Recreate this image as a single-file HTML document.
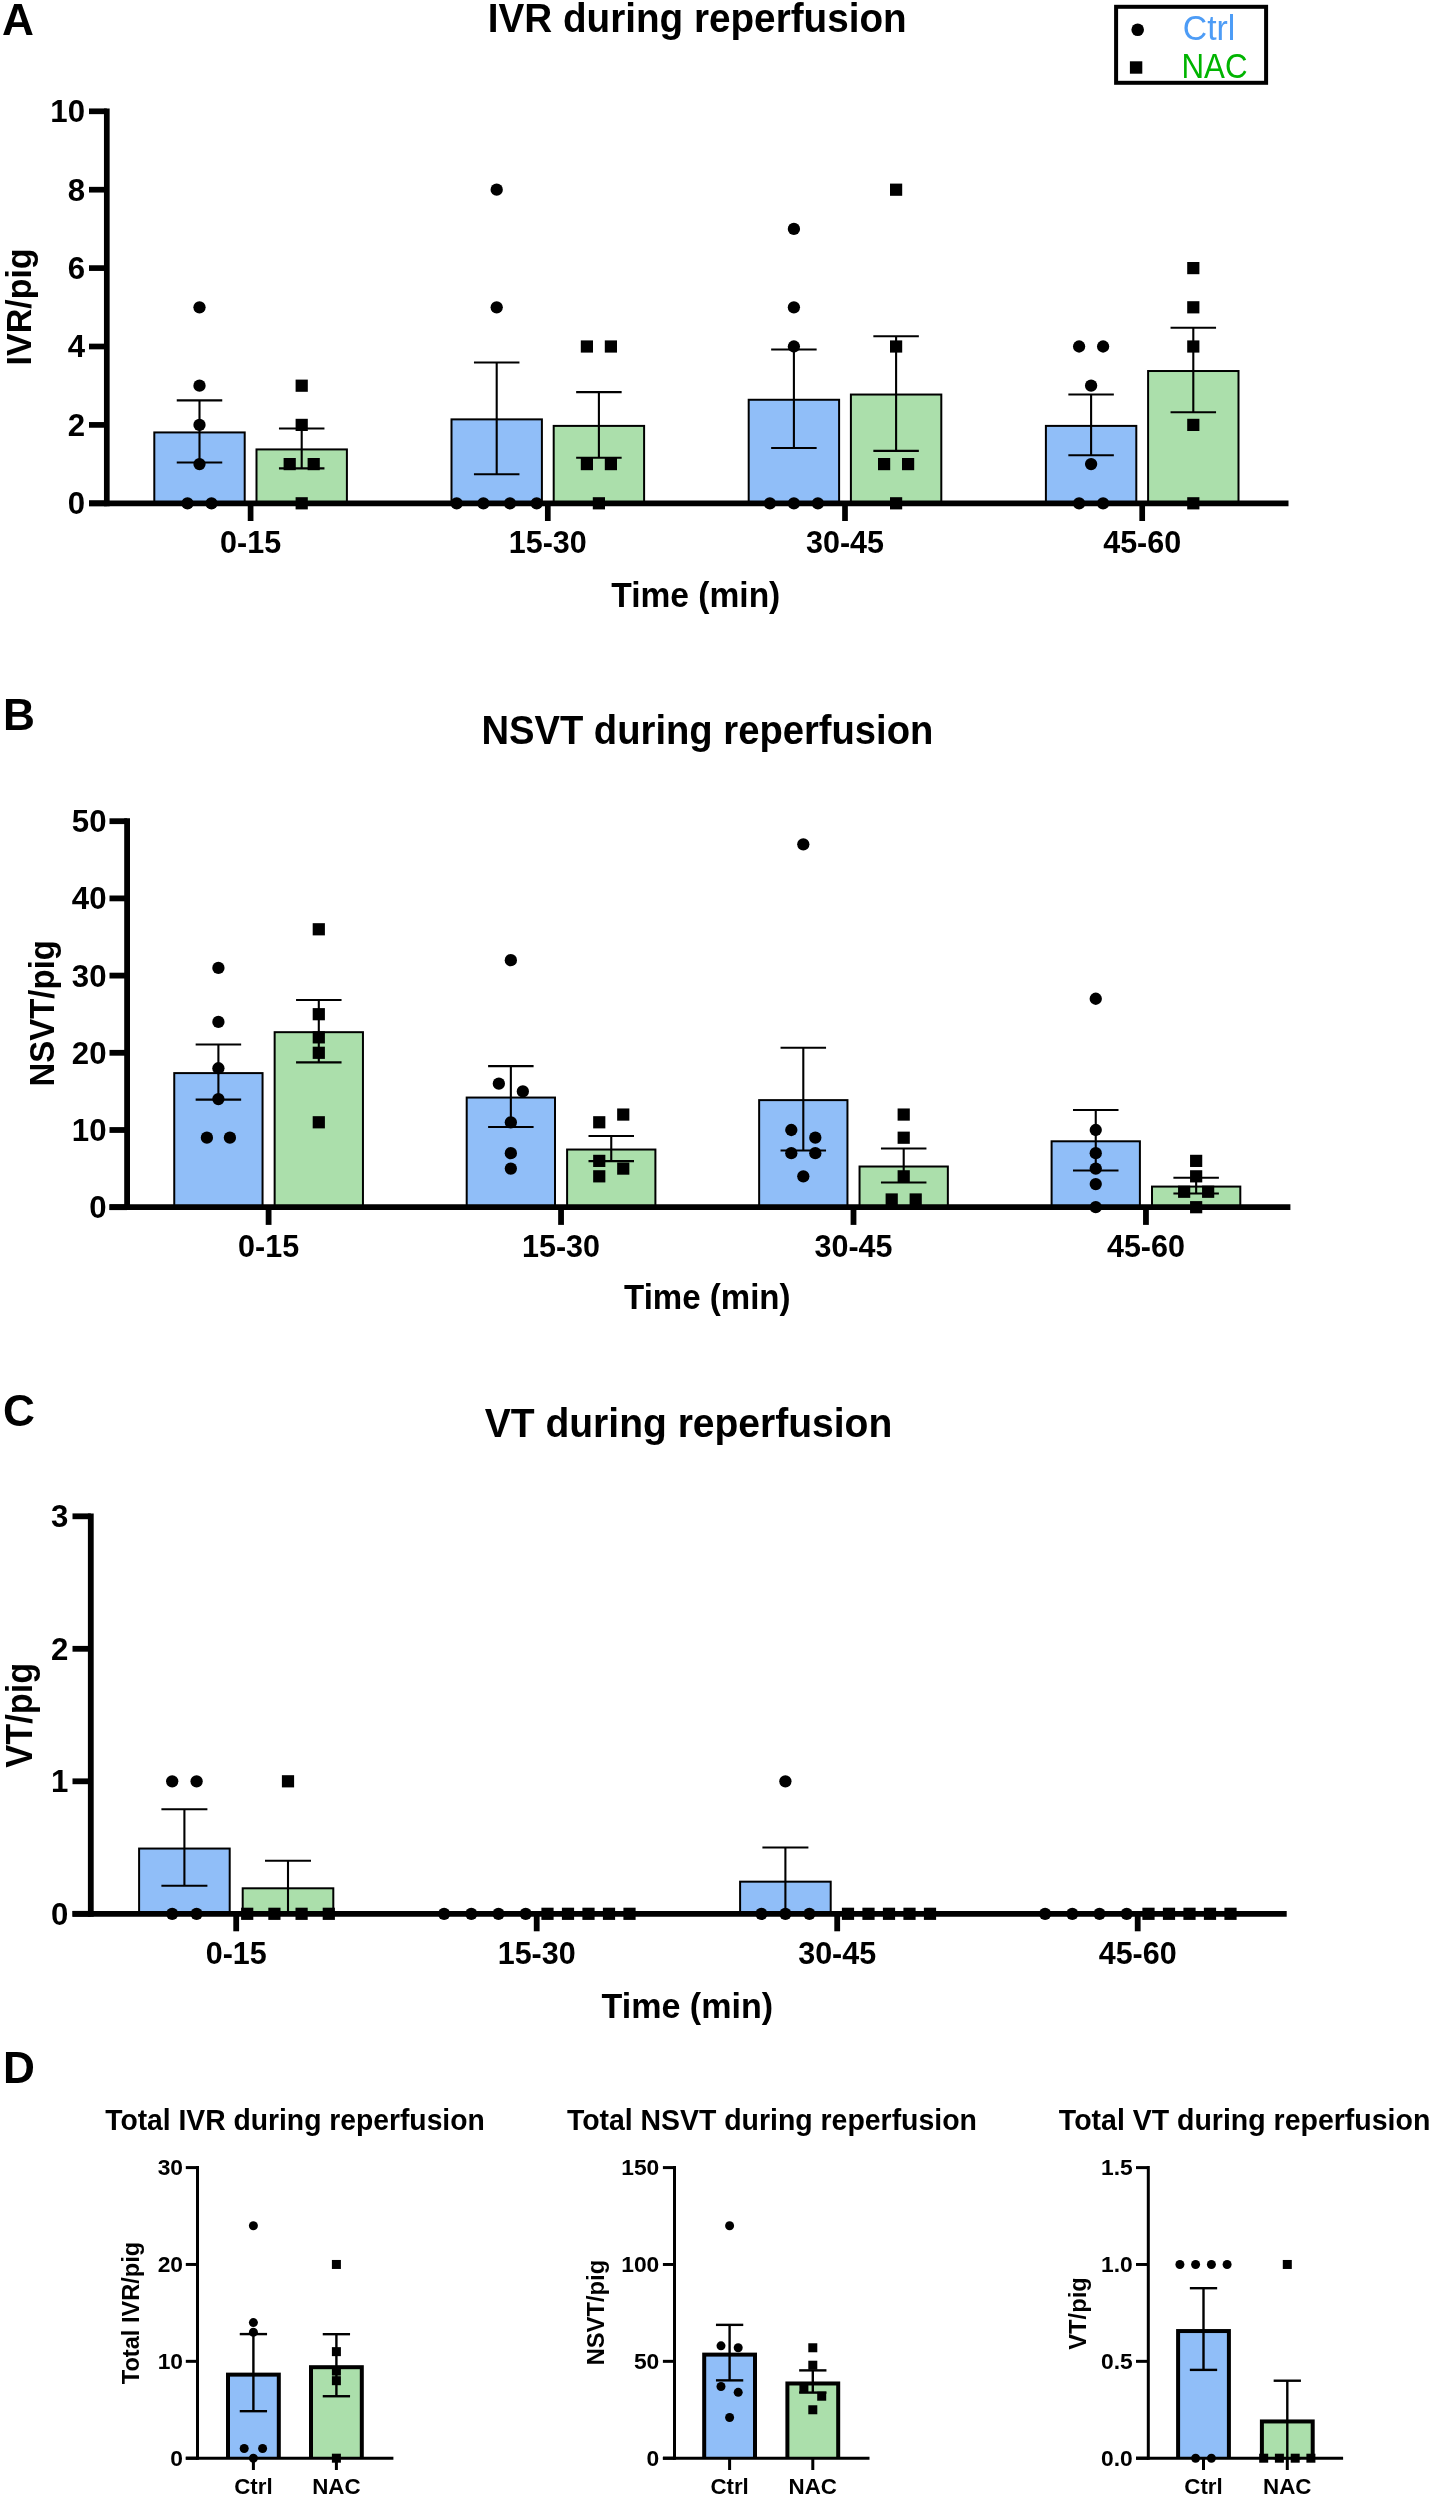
<!DOCTYPE html>
<html><head><meta charset="utf-8"><title>Figure</title>
<style>html,body{margin:0;padding:0;background:#fff;} svg{display:block;will-change:transform;} text{font-family:"Liberation Sans", sans-serif;}</style>
</head><body>
<svg width="1433" height="2500" viewBox="0 0 1433 2500">
<rect x="0" y="0" width="1433" height="2500" fill="#fff"/>
<rect x="153.30" y="431.43" width="92.40" height="71.87" fill="#000"/>
<rect x="155.30" y="433.43" width="88.40" height="69.87" fill="#90BEF8"/>
<rect x="255.50" y="448.42" width="92.40" height="54.88" fill="#000"/>
<rect x="257.50" y="450.42" width="88.40" height="52.88" fill="#ABDFAB"/>
<rect x="450.50" y="418.37" width="92.40" height="84.93" fill="#000"/>
<rect x="452.50" y="420.37" width="88.40" height="82.93" fill="#90BEF8"/>
<rect x="552.70" y="424.90" width="92.40" height="78.40" fill="#000"/>
<rect x="554.70" y="426.90" width="88.40" height="76.40" fill="#ABDFAB"/>
<rect x="747.70" y="398.77" width="92.40" height="104.53" fill="#000"/>
<rect x="749.70" y="400.77" width="88.40" height="102.53" fill="#90BEF8"/>
<rect x="849.90" y="393.54" width="92.40" height="109.76" fill="#000"/>
<rect x="851.90" y="395.54" width="88.40" height="107.76" fill="#ABDFAB"/>
<rect x="1044.90" y="424.90" width="92.40" height="78.40" fill="#000"/>
<rect x="1046.90" y="426.90" width="88.40" height="76.40" fill="#90BEF8"/>
<rect x="1147.10" y="370.02" width="92.40" height="133.28" fill="#000"/>
<rect x="1149.10" y="372.02" width="88.40" height="131.28" fill="#ABDFAB"/>
<circle cx="199.50" cy="307.30" r="6.15" fill="#000"/>
<circle cx="199.50" cy="385.70" r="6.15" fill="#000"/>
<circle cx="199.50" cy="424.90" r="6.15" fill="#000"/>
<circle cx="199.50" cy="464.10" r="6.15" fill="#000"/>
<circle cx="187.50" cy="503.30" r="6.15" fill="#000"/>
<circle cx="211.50" cy="503.30" r="6.15" fill="#000"/>
<rect x="295.60" y="379.60" width="12.20" height="12.20" fill="#000"/>
<rect x="295.60" y="418.80" width="12.20" height="12.20" fill="#000"/>
<rect x="283.60" y="458.00" width="12.20" height="12.20" fill="#000"/>
<rect x="307.60" y="458.00" width="12.20" height="12.20" fill="#000"/>
<rect x="295.60" y="497.20" width="12.20" height="12.20" fill="#000"/>
<circle cx="496.70" cy="189.70" r="6.15" fill="#000"/>
<circle cx="496.70" cy="307.30" r="6.15" fill="#000"/>
<circle cx="456.70" cy="503.30" r="6.15" fill="#000"/>
<circle cx="483.40" cy="503.30" r="6.15" fill="#000"/>
<circle cx="510.00" cy="503.30" r="6.15" fill="#000"/>
<circle cx="536.70" cy="503.30" r="6.15" fill="#000"/>
<rect x="580.80" y="340.40" width="12.20" height="12.20" fill="#000"/>
<rect x="604.80" y="340.40" width="12.20" height="12.20" fill="#000"/>
<rect x="580.80" y="458.00" width="12.20" height="12.20" fill="#000"/>
<rect x="604.80" y="458.00" width="12.20" height="12.20" fill="#000"/>
<rect x="592.80" y="497.20" width="12.20" height="12.20" fill="#000"/>
<circle cx="793.90" cy="228.90" r="6.15" fill="#000"/>
<circle cx="793.90" cy="307.30" r="6.15" fill="#000"/>
<circle cx="793.90" cy="346.50" r="6.15" fill="#000"/>
<circle cx="769.90" cy="503.30" r="6.15" fill="#000"/>
<circle cx="793.90" cy="503.30" r="6.15" fill="#000"/>
<circle cx="817.90" cy="503.30" r="6.15" fill="#000"/>
<rect x="890.00" y="183.60" width="12.20" height="12.20" fill="#000"/>
<rect x="890.00" y="340.40" width="12.20" height="12.20" fill="#000"/>
<rect x="878.00" y="458.00" width="12.20" height="12.20" fill="#000"/>
<rect x="902.00" y="458.00" width="12.20" height="12.20" fill="#000"/>
<rect x="890.00" y="497.20" width="12.20" height="12.20" fill="#000"/>
<circle cx="1079.10" cy="346.50" r="6.15" fill="#000"/>
<circle cx="1103.10" cy="346.50" r="6.15" fill="#000"/>
<circle cx="1091.10" cy="385.70" r="6.15" fill="#000"/>
<circle cx="1091.10" cy="464.10" r="6.15" fill="#000"/>
<circle cx="1079.10" cy="503.30" r="6.15" fill="#000"/>
<circle cx="1103.10" cy="503.30" r="6.15" fill="#000"/>
<rect x="1187.20" y="262.00" width="12.20" height="12.20" fill="#000"/>
<rect x="1187.20" y="301.20" width="12.20" height="12.20" fill="#000"/>
<rect x="1187.20" y="340.40" width="12.20" height="12.20" fill="#000"/>
<rect x="1187.20" y="418.80" width="12.20" height="12.20" fill="#000"/>
<rect x="1187.20" y="497.20" width="12.20" height="12.20" fill="#000"/>
<line x1="199.50" y1="400.37" x2="199.50" y2="462.49" stroke="#000" stroke-width="2.1" stroke-linecap="butt"/>
<line x1="176.75" y1="400.37" x2="222.25" y2="400.37" stroke="#000" stroke-width="2.1" stroke-linecap="butt"/>
<line x1="176.75" y1="462.49" x2="222.25" y2="462.49" stroke="#000" stroke-width="2.1" stroke-linecap="butt"/>
<line x1="301.70" y1="428.43" x2="301.70" y2="468.41" stroke="#000" stroke-width="2.1" stroke-linecap="butt"/>
<line x1="278.95" y1="428.43" x2="324.45" y2="428.43" stroke="#000" stroke-width="2.1" stroke-linecap="butt"/>
<line x1="278.95" y1="468.41" x2="324.45" y2="468.41" stroke="#000" stroke-width="2.1" stroke-linecap="butt"/>
<line x1="496.70" y1="362.55" x2="496.70" y2="474.19" stroke="#000" stroke-width="2.1" stroke-linecap="butt"/>
<line x1="473.95" y1="362.55" x2="519.45" y2="362.55" stroke="#000" stroke-width="2.1" stroke-linecap="butt"/>
<line x1="473.95" y1="474.19" x2="519.45" y2="474.19" stroke="#000" stroke-width="2.1" stroke-linecap="butt"/>
<line x1="598.90" y1="392.10" x2="598.90" y2="457.70" stroke="#000" stroke-width="2.1" stroke-linecap="butt"/>
<line x1="576.15" y1="392.10" x2="621.65" y2="392.10" stroke="#000" stroke-width="2.1" stroke-linecap="butt"/>
<line x1="576.15" y1="457.70" x2="621.65" y2="457.70" stroke="#000" stroke-width="2.1" stroke-linecap="butt"/>
<line x1="793.90" y1="349.53" x2="793.90" y2="448.01" stroke="#000" stroke-width="2.1" stroke-linecap="butt"/>
<line x1="771.15" y1="349.53" x2="816.65" y2="349.53" stroke="#000" stroke-width="2.1" stroke-linecap="butt"/>
<line x1="771.15" y1="448.01" x2="816.65" y2="448.01" stroke="#000" stroke-width="2.1" stroke-linecap="butt"/>
<line x1="896.10" y1="336.20" x2="896.10" y2="450.88" stroke="#000" stroke-width="2.1" stroke-linecap="butt"/>
<line x1="873.35" y1="336.20" x2="918.85" y2="336.20" stroke="#000" stroke-width="2.1" stroke-linecap="butt"/>
<line x1="873.35" y1="450.88" x2="918.85" y2="450.88" stroke="#000" stroke-width="2.1" stroke-linecap="butt"/>
<line x1="1091.10" y1="394.54" x2="1091.10" y2="455.26" stroke="#000" stroke-width="2.1" stroke-linecap="butt"/>
<line x1="1068.35" y1="394.54" x2="1113.85" y2="394.54" stroke="#000" stroke-width="2.1" stroke-linecap="butt"/>
<line x1="1068.35" y1="455.26" x2="1113.85" y2="455.26" stroke="#000" stroke-width="2.1" stroke-linecap="butt"/>
<line x1="1193.30" y1="327.80" x2="1193.30" y2="412.24" stroke="#000" stroke-width="2.1" stroke-linecap="butt"/>
<line x1="1170.55" y1="327.80" x2="1216.05" y2="327.80" stroke="#000" stroke-width="2.1" stroke-linecap="butt"/>
<line x1="1170.55" y1="412.24" x2="1216.05" y2="412.24" stroke="#000" stroke-width="2.1" stroke-linecap="butt"/>
<line x1="106.80" y1="108.45" x2="106.80" y2="506.15" stroke="#000" stroke-width="5.7" stroke-linecap="butt"/>
<line x1="89.00" y1="503.30" x2="1288.50" y2="503.30" stroke="#000" stroke-width="5.7" stroke-linecap="butt"/>
<line x1="89.00" y1="503.30" x2="106.80" y2="503.30" stroke="#000" stroke-width="5.7" stroke-linecap="butt"/>
<line x1="89.00" y1="424.90" x2="106.80" y2="424.90" stroke="#000" stroke-width="5.7" stroke-linecap="butt"/>
<line x1="89.00" y1="346.50" x2="106.80" y2="346.50" stroke="#000" stroke-width="5.7" stroke-linecap="butt"/>
<line x1="89.00" y1="268.10" x2="106.80" y2="268.10" stroke="#000" stroke-width="5.7" stroke-linecap="butt"/>
<line x1="89.00" y1="189.70" x2="106.80" y2="189.70" stroke="#000" stroke-width="5.7" stroke-linecap="butt"/>
<line x1="89.00" y1="111.30" x2="106.80" y2="111.30" stroke="#000" stroke-width="5.7" stroke-linecap="butt"/>
<line x1="250.60" y1="503.30" x2="250.60" y2="521.00" stroke="#000" stroke-width="5.7" stroke-linecap="butt"/>
<line x1="547.80" y1="503.30" x2="547.80" y2="521.00" stroke="#000" stroke-width="5.7" stroke-linecap="butt"/>
<line x1="845.00" y1="503.30" x2="845.00" y2="521.00" stroke="#000" stroke-width="5.7" stroke-linecap="butt"/>
<line x1="1142.20" y1="503.30" x2="1142.20" y2="521.00" stroke="#000" stroke-width="5.7" stroke-linecap="butt"/>
<text x="85.00" y="514.20" font-size="31.2" font-weight="bold" fill="#000" text-anchor="end">0</text>
<text x="85.00" y="435.80" font-size="31.2" font-weight="bold" fill="#000" text-anchor="end">2</text>
<text x="85.00" y="357.40" font-size="31.2" font-weight="bold" fill="#000" text-anchor="end">4</text>
<text x="85.00" y="279.00" font-size="31.2" font-weight="bold" fill="#000" text-anchor="end">6</text>
<text x="85.00" y="200.60" font-size="31.2" font-weight="bold" fill="#000" text-anchor="end">8</text>
<text x="85.00" y="122.20" font-size="31.2" font-weight="bold" fill="#000" text-anchor="end">10</text>
<text x="250.60" y="553.00" font-size="30.5" font-weight="bold" fill="#000" text-anchor="middle">0-15</text>
<text x="547.80" y="553.00" font-size="30.5" font-weight="bold" fill="#000" text-anchor="middle">15-30</text>
<text x="845.00" y="553.00" font-size="30.5" font-weight="bold" fill="#000" text-anchor="middle">30-45</text>
<text x="1142.20" y="553.00" font-size="30.5" font-weight="bold" fill="#000" text-anchor="middle">45-60</text>
<rect x="173.25" y="1072.10" width="90.30" height="135.10" fill="#000"/>
<rect x="175.25" y="1074.10" width="86.30" height="133.10" fill="#90BEF8"/>
<rect x="273.65" y="1031.18" width="90.30" height="176.02" fill="#000"/>
<rect x="275.65" y="1033.18" width="86.30" height="174.02" fill="#ABDFAB"/>
<rect x="465.70" y="1096.55" width="90.30" height="110.65" fill="#000"/>
<rect x="467.70" y="1098.55" width="86.30" height="108.65" fill="#90BEF8"/>
<rect x="566.10" y="1148.53" width="90.30" height="58.67" fill="#000"/>
<rect x="568.10" y="1150.53" width="86.30" height="56.67" fill="#ABDFAB"/>
<rect x="758.15" y="1099.12" width="90.30" height="108.08" fill="#000"/>
<rect x="760.15" y="1101.12" width="86.30" height="106.08" fill="#90BEF8"/>
<rect x="858.55" y="1165.51" width="90.30" height="41.69" fill="#000"/>
<rect x="860.55" y="1167.51" width="86.30" height="39.69" fill="#ABDFAB"/>
<rect x="1050.60" y="1140.29" width="90.30" height="66.91" fill="#000"/>
<rect x="1052.60" y="1142.29" width="86.30" height="64.91" fill="#90BEF8"/>
<rect x="1151.00" y="1185.58" width="90.30" height="21.62" fill="#000"/>
<rect x="1153.00" y="1187.58" width="86.30" height="19.62" fill="#ABDFAB"/>
<circle cx="218.40" cy="967.88" r="6.15" fill="#000"/>
<circle cx="218.40" cy="1021.92" r="6.15" fill="#000"/>
<circle cx="218.40" cy="1068.24" r="6.15" fill="#000"/>
<circle cx="218.40" cy="1099.12" r="6.15" fill="#000"/>
<circle cx="206.90" cy="1137.72" r="6.15" fill="#000"/>
<circle cx="229.90" cy="1137.72" r="6.15" fill="#000"/>
<rect x="312.70" y="923.18" width="12.20" height="12.20" fill="#000"/>
<rect x="312.70" y="1008.10" width="12.20" height="12.20" fill="#000"/>
<rect x="312.70" y="1031.26" width="12.20" height="12.20" fill="#000"/>
<rect x="312.70" y="1046.70" width="12.20" height="12.20" fill="#000"/>
<rect x="312.70" y="1116.18" width="12.20" height="12.20" fill="#000"/>
<circle cx="510.85" cy="960.16" r="6.15" fill="#000"/>
<circle cx="498.85" cy="1083.68" r="6.15" fill="#000"/>
<circle cx="522.85" cy="1091.40" r="6.15" fill="#000"/>
<circle cx="510.85" cy="1122.28" r="6.15" fill="#000"/>
<circle cx="510.85" cy="1153.16" r="6.15" fill="#000"/>
<circle cx="510.85" cy="1168.60" r="6.15" fill="#000"/>
<rect x="617.15" y="1108.46" width="12.20" height="12.20" fill="#000"/>
<rect x="593.15" y="1116.18" width="12.20" height="12.20" fill="#000"/>
<rect x="593.15" y="1154.78" width="12.20" height="12.20" fill="#000"/>
<rect x="617.15" y="1162.50" width="12.20" height="12.20" fill="#000"/>
<rect x="593.15" y="1170.22" width="12.20" height="12.20" fill="#000"/>
<circle cx="803.30" cy="844.36" r="6.15" fill="#000"/>
<circle cx="791.30" cy="1130.00" r="6.15" fill="#000"/>
<circle cx="815.30" cy="1137.72" r="6.15" fill="#000"/>
<circle cx="791.30" cy="1153.16" r="6.15" fill="#000"/>
<circle cx="815.30" cy="1153.16" r="6.15" fill="#000"/>
<circle cx="803.30" cy="1176.32" r="6.15" fill="#000"/>
<rect x="897.60" y="1108.46" width="12.20" height="12.20" fill="#000"/>
<rect x="897.60" y="1131.62" width="12.20" height="12.20" fill="#000"/>
<rect x="897.60" y="1170.22" width="12.20" height="12.20" fill="#000"/>
<rect x="885.60" y="1193.38" width="12.20" height="12.20" fill="#000"/>
<rect x="909.60" y="1193.38" width="12.20" height="12.20" fill="#000"/>
<circle cx="1095.75" cy="998.76" r="6.15" fill="#000"/>
<circle cx="1095.75" cy="1130.00" r="6.15" fill="#000"/>
<circle cx="1095.75" cy="1153.16" r="6.15" fill="#000"/>
<circle cx="1095.75" cy="1168.60" r="6.15" fill="#000"/>
<circle cx="1095.75" cy="1184.04" r="6.15" fill="#000"/>
<circle cx="1095.75" cy="1207.20" r="6.15" fill="#000"/>
<rect x="1190.05" y="1154.78" width="12.20" height="12.20" fill="#000"/>
<rect x="1190.05" y="1170.22" width="12.20" height="12.20" fill="#000"/>
<rect x="1178.05" y="1185.66" width="12.20" height="12.20" fill="#000"/>
<rect x="1202.05" y="1185.66" width="12.20" height="12.20" fill="#000"/>
<rect x="1190.05" y="1201.10" width="12.20" height="12.20" fill="#000"/>
<line x1="218.40" y1="1044.57" x2="218.40" y2="1099.63" stroke="#000" stroke-width="2.1" stroke-linecap="butt"/>
<line x1="195.65" y1="1044.57" x2="241.15" y2="1044.57" stroke="#000" stroke-width="2.1" stroke-linecap="butt"/>
<line x1="195.65" y1="1099.63" x2="241.15" y2="1099.63" stroke="#000" stroke-width="2.1" stroke-linecap="butt"/>
<line x1="318.80" y1="999.98" x2="318.80" y2="1062.39" stroke="#000" stroke-width="2.1" stroke-linecap="butt"/>
<line x1="296.05" y1="999.98" x2="341.55" y2="999.98" stroke="#000" stroke-width="2.1" stroke-linecap="butt"/>
<line x1="296.05" y1="1062.39" x2="341.55" y2="1062.39" stroke="#000" stroke-width="2.1" stroke-linecap="butt"/>
<line x1="510.85" y1="1066.08" x2="510.85" y2="1127.02" stroke="#000" stroke-width="2.1" stroke-linecap="butt"/>
<line x1="488.10" y1="1066.08" x2="533.60" y2="1066.08" stroke="#000" stroke-width="2.1" stroke-linecap="butt"/>
<line x1="488.10" y1="1127.02" x2="533.60" y2="1127.02" stroke="#000" stroke-width="2.1" stroke-linecap="butt"/>
<line x1="611.25" y1="1135.94" x2="611.25" y2="1161.12" stroke="#000" stroke-width="2.1" stroke-linecap="butt"/>
<line x1="588.50" y1="1135.94" x2="634.00" y2="1135.94" stroke="#000" stroke-width="2.1" stroke-linecap="butt"/>
<line x1="588.50" y1="1161.12" x2="634.00" y2="1161.12" stroke="#000" stroke-width="2.1" stroke-linecap="butt"/>
<line x1="803.30" y1="1047.76" x2="803.30" y2="1150.48" stroke="#000" stroke-width="2.1" stroke-linecap="butt"/>
<line x1="780.55" y1="1047.76" x2="826.05" y2="1047.76" stroke="#000" stroke-width="2.1" stroke-linecap="butt"/>
<line x1="780.55" y1="1150.48" x2="826.05" y2="1150.48" stroke="#000" stroke-width="2.1" stroke-linecap="butt"/>
<line x1="903.70" y1="1148.49" x2="903.70" y2="1182.53" stroke="#000" stroke-width="2.1" stroke-linecap="butt"/>
<line x1="880.95" y1="1148.49" x2="926.45" y2="1148.49" stroke="#000" stroke-width="2.1" stroke-linecap="butt"/>
<line x1="880.95" y1="1182.53" x2="926.45" y2="1182.53" stroke="#000" stroke-width="2.1" stroke-linecap="butt"/>
<line x1="1095.75" y1="1110.02" x2="1095.75" y2="1170.57" stroke="#000" stroke-width="2.1" stroke-linecap="butt"/>
<line x1="1073.00" y1="1110.02" x2="1118.50" y2="1110.02" stroke="#000" stroke-width="2.1" stroke-linecap="butt"/>
<line x1="1073.00" y1="1170.57" x2="1118.50" y2="1170.57" stroke="#000" stroke-width="2.1" stroke-linecap="butt"/>
<line x1="1196.15" y1="1177.71" x2="1196.15" y2="1193.46" stroke="#000" stroke-width="2.1" stroke-linecap="butt"/>
<line x1="1173.40" y1="1177.71" x2="1218.90" y2="1177.71" stroke="#000" stroke-width="2.1" stroke-linecap="butt"/>
<line x1="1173.40" y1="1193.46" x2="1218.90" y2="1193.46" stroke="#000" stroke-width="2.1" stroke-linecap="butt"/>
<line x1="127.10" y1="818.30" x2="127.10" y2="1210.10" stroke="#000" stroke-width="5.8" stroke-linecap="butt"/>
<line x1="109.50" y1="1207.20" x2="1290.40" y2="1207.20" stroke="#000" stroke-width="5.8" stroke-linecap="butt"/>
<line x1="109.50" y1="1207.20" x2="127.10" y2="1207.20" stroke="#000" stroke-width="5.8" stroke-linecap="butt"/>
<line x1="109.50" y1="1130.00" x2="127.10" y2="1130.00" stroke="#000" stroke-width="5.8" stroke-linecap="butt"/>
<line x1="109.50" y1="1052.80" x2="127.10" y2="1052.80" stroke="#000" stroke-width="5.8" stroke-linecap="butt"/>
<line x1="109.50" y1="975.60" x2="127.10" y2="975.60" stroke="#000" stroke-width="5.8" stroke-linecap="butt"/>
<line x1="109.50" y1="898.40" x2="127.10" y2="898.40" stroke="#000" stroke-width="5.8" stroke-linecap="butt"/>
<line x1="109.50" y1="821.20" x2="127.10" y2="821.20" stroke="#000" stroke-width="5.8" stroke-linecap="butt"/>
<line x1="268.60" y1="1207.20" x2="268.60" y2="1224.90" stroke="#000" stroke-width="5.8" stroke-linecap="butt"/>
<line x1="561.05" y1="1207.20" x2="561.05" y2="1224.90" stroke="#000" stroke-width="5.8" stroke-linecap="butt"/>
<line x1="853.50" y1="1207.20" x2="853.50" y2="1224.90" stroke="#000" stroke-width="5.8" stroke-linecap="butt"/>
<line x1="1145.95" y1="1207.20" x2="1145.95" y2="1224.90" stroke="#000" stroke-width="5.8" stroke-linecap="butt"/>
<text x="106.50" y="1218.10" font-size="31.2" font-weight="bold" fill="#000" text-anchor="end">0</text>
<text x="106.50" y="1140.90" font-size="31.2" font-weight="bold" fill="#000" text-anchor="end">10</text>
<text x="106.50" y="1063.70" font-size="31.2" font-weight="bold" fill="#000" text-anchor="end">20</text>
<text x="106.50" y="986.50" font-size="31.2" font-weight="bold" fill="#000" text-anchor="end">30</text>
<text x="106.50" y="909.30" font-size="31.2" font-weight="bold" fill="#000" text-anchor="end">40</text>
<text x="106.50" y="832.10" font-size="31.2" font-weight="bold" fill="#000" text-anchor="end">50</text>
<text x="268.60" y="1257.00" font-size="30.5" font-weight="bold" fill="#000" text-anchor="middle">0-15</text>
<text x="561.05" y="1257.00" font-size="30.5" font-weight="bold" fill="#000" text-anchor="middle">15-30</text>
<text x="853.50" y="1257.00" font-size="30.5" font-weight="bold" fill="#000" text-anchor="middle">30-45</text>
<text x="1145.95" y="1257.00" font-size="30.5" font-weight="bold" fill="#000" text-anchor="middle">45-60</text>
<rect x="138.10" y="1847.55" width="92.60" height="66.25" fill="#000"/>
<rect x="140.10" y="1849.55" width="88.60" height="64.25" fill="#90BEF8"/>
<rect x="241.70" y="1887.30" width="92.60" height="26.50" fill="#000"/>
<rect x="243.70" y="1889.30" width="88.60" height="24.50" fill="#ABDFAB"/>
<rect x="739.10" y="1880.67" width="92.60" height="33.12" fill="#000"/>
<rect x="741.10" y="1882.67" width="88.60" height="31.12" fill="#90BEF8"/>
<circle cx="172.20" cy="1781.30" r="6.15" fill="#000"/>
<circle cx="196.60" cy="1781.30" r="6.15" fill="#000"/>
<circle cx="172.20" cy="1913.80" r="6.15" fill="#000"/>
<circle cx="196.60" cy="1913.80" r="6.15" fill="#000"/>
<rect x="281.90" y="1775.20" width="12.20" height="12.20" fill="#000"/>
<rect x="241.10" y="1907.70" width="12.20" height="12.20" fill="#000"/>
<rect x="268.30" y="1907.70" width="12.20" height="12.20" fill="#000"/>
<rect x="295.50" y="1907.70" width="12.20" height="12.20" fill="#000"/>
<rect x="322.70" y="1907.70" width="12.20" height="12.20" fill="#000"/>
<circle cx="444.10" cy="1913.80" r="6.15" fill="#000"/>
<circle cx="471.30" cy="1913.80" r="6.15" fill="#000"/>
<circle cx="498.50" cy="1913.80" r="6.15" fill="#000"/>
<circle cx="525.70" cy="1913.80" r="6.15" fill="#000"/>
<rect x="541.40" y="1907.70" width="12.20" height="12.20" fill="#000"/>
<rect x="561.90" y="1907.70" width="12.20" height="12.20" fill="#000"/>
<rect x="582.40" y="1907.70" width="12.20" height="12.20" fill="#000"/>
<rect x="602.90" y="1907.70" width="12.20" height="12.20" fill="#000"/>
<rect x="623.40" y="1907.70" width="12.20" height="12.20" fill="#000"/>
<circle cx="785.40" cy="1781.30" r="6.15" fill="#000"/>
<circle cx="761.40" cy="1913.80" r="6.15" fill="#000"/>
<circle cx="785.40" cy="1913.80" r="6.15" fill="#000"/>
<circle cx="809.40" cy="1913.80" r="6.15" fill="#000"/>
<rect x="841.90" y="1907.70" width="12.20" height="12.20" fill="#000"/>
<rect x="862.40" y="1907.70" width="12.20" height="12.20" fill="#000"/>
<rect x="882.90" y="1907.70" width="12.20" height="12.20" fill="#000"/>
<rect x="903.40" y="1907.70" width="12.20" height="12.20" fill="#000"/>
<rect x="923.90" y="1907.70" width="12.20" height="12.20" fill="#000"/>
<circle cx="1045.10" cy="1913.80" r="6.15" fill="#000"/>
<circle cx="1072.30" cy="1913.80" r="6.15" fill="#000"/>
<circle cx="1099.50" cy="1913.80" r="6.15" fill="#000"/>
<circle cx="1126.70" cy="1913.80" r="6.15" fill="#000"/>
<rect x="1142.40" y="1907.70" width="12.20" height="12.20" fill="#000"/>
<rect x="1162.90" y="1907.70" width="12.20" height="12.20" fill="#000"/>
<rect x="1183.40" y="1907.70" width="12.20" height="12.20" fill="#000"/>
<rect x="1203.90" y="1907.70" width="12.20" height="12.20" fill="#000"/>
<rect x="1224.40" y="1907.70" width="12.20" height="12.20" fill="#000"/>
<line x1="184.40" y1="1809.30" x2="184.40" y2="1885.80" stroke="#000" stroke-width="2.1" stroke-linecap="butt"/>
<line x1="161.40" y1="1809.30" x2="207.40" y2="1809.30" stroke="#000" stroke-width="2.1" stroke-linecap="butt"/>
<line x1="161.40" y1="1885.80" x2="207.40" y2="1885.80" stroke="#000" stroke-width="2.1" stroke-linecap="butt"/>
<line x1="288.00" y1="1860.80" x2="288.00" y2="1913.80" stroke="#000" stroke-width="2.1" stroke-linecap="butt"/>
<line x1="265.00" y1="1860.80" x2="311.00" y2="1860.80" stroke="#000" stroke-width="2.1" stroke-linecap="butt"/>
<line x1="265.00" y1="1913.80" x2="311.00" y2="1913.80" stroke="#000" stroke-width="2.1" stroke-linecap="butt"/>
<line x1="785.40" y1="1847.55" x2="785.40" y2="1913.80" stroke="#000" stroke-width="2.1" stroke-linecap="butt"/>
<line x1="762.40" y1="1847.55" x2="808.40" y2="1847.55" stroke="#000" stroke-width="2.1" stroke-linecap="butt"/>
<line x1="762.40" y1="1913.80" x2="808.40" y2="1913.80" stroke="#000" stroke-width="2.1" stroke-linecap="butt"/>
<line x1="90.80" y1="1513.40" x2="90.80" y2="1916.70" stroke="#000" stroke-width="5.8" stroke-linecap="butt"/>
<line x1="72.50" y1="1913.80" x2="1286.70" y2="1913.80" stroke="#000" stroke-width="5.8" stroke-linecap="butt"/>
<line x1="72.50" y1="1913.80" x2="90.80" y2="1913.80" stroke="#000" stroke-width="5.8" stroke-linecap="butt"/>
<line x1="72.50" y1="1781.30" x2="90.80" y2="1781.30" stroke="#000" stroke-width="5.8" stroke-linecap="butt"/>
<line x1="72.50" y1="1648.80" x2="90.80" y2="1648.80" stroke="#000" stroke-width="5.8" stroke-linecap="butt"/>
<line x1="72.50" y1="1516.30" x2="90.80" y2="1516.30" stroke="#000" stroke-width="5.8" stroke-linecap="butt"/>
<line x1="236.20" y1="1913.80" x2="236.20" y2="1931.30" stroke="#000" stroke-width="5.8" stroke-linecap="butt"/>
<line x1="536.70" y1="1913.80" x2="536.70" y2="1931.30" stroke="#000" stroke-width="5.8" stroke-linecap="butt"/>
<line x1="837.20" y1="1913.80" x2="837.20" y2="1931.30" stroke="#000" stroke-width="5.8" stroke-linecap="butt"/>
<line x1="1137.70" y1="1913.80" x2="1137.70" y2="1931.30" stroke="#000" stroke-width="5.8" stroke-linecap="butt"/>
<text x="68.30" y="1924.70" font-size="31.2" font-weight="bold" fill="#000" text-anchor="end">0</text>
<text x="68.30" y="1792.20" font-size="31.2" font-weight="bold" fill="#000" text-anchor="end">1</text>
<text x="68.30" y="1659.70" font-size="31.2" font-weight="bold" fill="#000" text-anchor="end">2</text>
<text x="68.30" y="1527.20" font-size="31.2" font-weight="bold" fill="#000" text-anchor="end">3</text>
<text x="236.20" y="1964.00" font-size="30.5" font-weight="bold" fill="#000" text-anchor="middle">0-15</text>
<text x="536.70" y="1964.00" font-size="30.5" font-weight="bold" fill="#000" text-anchor="middle">15-30</text>
<text x="837.20" y="1964.00" font-size="30.5" font-weight="bold" fill="#000" text-anchor="middle">30-45</text>
<text x="1137.70" y="1964.00" font-size="30.5" font-weight="bold" fill="#000" text-anchor="middle">45-60</text>
<rect x="226.00" y="2372.63" width="54.80" height="85.57" fill="#000"/>
<rect x="230.00" y="2376.63" width="46.80" height="81.57" fill="#90BEF8"/>
<rect x="309.00" y="2365.20" width="54.80" height="93.00" fill="#000"/>
<rect x="313.00" y="2369.20" width="46.80" height="89.00" fill="#ABDFAB"/>
<circle cx="253.40" cy="2225.71" r="4.50" fill="#000"/>
<circle cx="253.40" cy="2322.58" r="4.50" fill="#000"/>
<circle cx="253.40" cy="2332.27" r="4.50" fill="#000"/>
<circle cx="244.20" cy="2448.51" r="4.50" fill="#000"/>
<circle cx="262.60" cy="2448.51" r="4.50" fill="#000"/>
<circle cx="253.40" cy="2458.20" r="4.50" fill="#000"/>
<rect x="331.90" y="2259.96" width="9.00" height="9.00" fill="#000"/>
<rect x="331.90" y="2347.14" width="9.00" height="9.00" fill="#000"/>
<rect x="331.90" y="2366.52" width="9.00" height="9.00" fill="#000"/>
<rect x="331.90" y="2376.20" width="9.00" height="9.00" fill="#000"/>
<rect x="331.90" y="2453.70" width="9.00" height="9.00" fill="#000"/>
<line x1="253.40" y1="2334.09" x2="253.40" y2="2411.17" stroke="#000" stroke-width="2.4" stroke-linecap="butt"/>
<line x1="239.75" y1="2334.09" x2="267.05" y2="2334.09" stroke="#000" stroke-width="2.4" stroke-linecap="butt"/>
<line x1="239.75" y1="2411.17" x2="267.05" y2="2411.17" stroke="#000" stroke-width="2.4" stroke-linecap="butt"/>
<line x1="336.40" y1="2334.18" x2="336.40" y2="2396.23" stroke="#000" stroke-width="2.4" stroke-linecap="butt"/>
<line x1="322.75" y1="2334.18" x2="350.05" y2="2334.18" stroke="#000" stroke-width="2.4" stroke-linecap="butt"/>
<line x1="322.75" y1="2396.23" x2="350.05" y2="2396.23" stroke="#000" stroke-width="2.4" stroke-linecap="butt"/>
<line x1="197.50" y1="2166.09" x2="197.50" y2="2459.70" stroke="#000" stroke-width="3.0" stroke-linecap="butt"/>
<line x1="185.80" y1="2458.20" x2="393.40" y2="2458.20" stroke="#000" stroke-width="3.0" stroke-linecap="butt"/>
<line x1="185.80" y1="2458.20" x2="197.50" y2="2458.20" stroke="#000" stroke-width="3.0" stroke-linecap="butt"/>
<line x1="185.80" y1="2361.33" x2="197.50" y2="2361.33" stroke="#000" stroke-width="3.0" stroke-linecap="butt"/>
<line x1="185.80" y1="2264.46" x2="197.50" y2="2264.46" stroke="#000" stroke-width="3.0" stroke-linecap="butt"/>
<line x1="185.80" y1="2167.59" x2="197.50" y2="2167.59" stroke="#000" stroke-width="3.0" stroke-linecap="butt"/>
<line x1="253.40" y1="2458.20" x2="253.40" y2="2470.00" stroke="#000" stroke-width="3.0" stroke-linecap="butt"/>
<line x1="336.40" y1="2458.20" x2="336.40" y2="2470.00" stroke="#000" stroke-width="3.0" stroke-linecap="butt"/>
<text x="183.00" y="2466.05" font-size="22.8" font-weight="bold" fill="#000" text-anchor="end">0</text>
<text x="183.00" y="2369.18" font-size="22.8" font-weight="bold" fill="#000" text-anchor="end">10</text>
<text x="183.00" y="2272.31" font-size="22.8" font-weight="bold" fill="#000" text-anchor="end">20</text>
<text x="183.00" y="2175.44" font-size="22.8" font-weight="bold" fill="#000" text-anchor="end">30</text>
<rect x="702.20" y="2352.62" width="54.80" height="105.58" fill="#000"/>
<rect x="706.20" y="2356.62" width="46.80" height="101.58" fill="#90BEF8"/>
<rect x="785.40" y="2381.48" width="54.80" height="76.72" fill="#000"/>
<rect x="789.40" y="2385.48" width="46.80" height="72.72" fill="#ABDFAB"/>
<circle cx="729.60" cy="2225.72" r="4.50" fill="#000"/>
<circle cx="721.00" cy="2345.84" r="4.50" fill="#000"/>
<circle cx="738.20" cy="2347.77" r="4.50" fill="#000"/>
<circle cx="721.00" cy="2386.52" r="4.50" fill="#000"/>
<circle cx="738.20" cy="2392.33" r="4.50" fill="#000"/>
<circle cx="729.60" cy="2417.52" r="4.50" fill="#000"/>
<rect x="808.30" y="2343.27" width="9.00" height="9.00" fill="#000"/>
<rect x="808.30" y="2360.71" width="9.00" height="9.00" fill="#000"/>
<rect x="799.40" y="2383.96" width="9.00" height="9.00" fill="#000"/>
<rect x="817.20" y="2391.71" width="9.00" height="9.00" fill="#000"/>
<rect x="808.30" y="2405.27" width="9.00" height="9.00" fill="#000"/>
<line x1="729.60" y1="2324.86" x2="729.60" y2="2380.37" stroke="#000" stroke-width="2.4" stroke-linecap="butt"/>
<line x1="715.95" y1="2324.86" x2="743.25" y2="2324.86" stroke="#000" stroke-width="2.4" stroke-linecap="butt"/>
<line x1="715.95" y1="2380.37" x2="743.25" y2="2380.37" stroke="#000" stroke-width="2.4" stroke-linecap="butt"/>
<line x1="812.80" y1="2370.38" x2="812.80" y2="2392.59" stroke="#000" stroke-width="2.4" stroke-linecap="butt"/>
<line x1="799.15" y1="2370.38" x2="826.45" y2="2370.38" stroke="#000" stroke-width="2.4" stroke-linecap="butt"/>
<line x1="799.15" y1="2392.59" x2="826.45" y2="2392.59" stroke="#000" stroke-width="2.4" stroke-linecap="butt"/>
<line x1="674.50" y1="2166.10" x2="674.50" y2="2459.70" stroke="#000" stroke-width="3.0" stroke-linecap="butt"/>
<line x1="662.90" y1="2458.20" x2="869.50" y2="2458.20" stroke="#000" stroke-width="3.0" stroke-linecap="butt"/>
<line x1="662.90" y1="2458.20" x2="674.50" y2="2458.20" stroke="#000" stroke-width="3.0" stroke-linecap="butt"/>
<line x1="662.90" y1="2361.34" x2="674.50" y2="2361.34" stroke="#000" stroke-width="3.0" stroke-linecap="butt"/>
<line x1="662.90" y1="2264.47" x2="674.50" y2="2264.47" stroke="#000" stroke-width="3.0" stroke-linecap="butt"/>
<line x1="662.90" y1="2167.60" x2="674.50" y2="2167.60" stroke="#000" stroke-width="3.0" stroke-linecap="butt"/>
<line x1="729.60" y1="2458.20" x2="729.60" y2="2470.00" stroke="#000" stroke-width="3.0" stroke-linecap="butt"/>
<line x1="812.80" y1="2458.20" x2="812.80" y2="2470.00" stroke="#000" stroke-width="3.0" stroke-linecap="butt"/>
<text x="659.30" y="2466.05" font-size="22.8" font-weight="bold" fill="#000" text-anchor="end">0</text>
<text x="659.30" y="2369.18" font-size="22.8" font-weight="bold" fill="#000" text-anchor="end">50</text>
<text x="659.30" y="2272.32" font-size="22.8" font-weight="bold" fill="#000" text-anchor="end">100</text>
<text x="659.30" y="2175.45" font-size="22.8" font-weight="bold" fill="#000" text-anchor="end">150</text>
<rect x="1176.10" y="2329.05" width="54.80" height="129.15" fill="#000"/>
<rect x="1180.10" y="2333.05" width="46.80" height="125.15" fill="#90BEF8"/>
<rect x="1259.90" y="2419.45" width="54.80" height="38.75" fill="#000"/>
<rect x="1263.90" y="2423.45" width="46.80" height="34.75" fill="#ABDFAB"/>
<circle cx="1179.90" cy="2264.47" r="4.50" fill="#000"/>
<circle cx="1195.60" cy="2264.47" r="4.50" fill="#000"/>
<circle cx="1211.40" cy="2264.47" r="4.50" fill="#000"/>
<circle cx="1227.10" cy="2264.47" r="4.50" fill="#000"/>
<circle cx="1195.60" cy="2458.20" r="4.50" fill="#000"/>
<circle cx="1211.40" cy="2458.20" r="4.50" fill="#000"/>
<rect x="1282.80" y="2259.97" width="9.00" height="9.00" fill="#000"/>
<rect x="1259.20" y="2453.70" width="9.00" height="9.00" fill="#000"/>
<rect x="1274.90" y="2453.70" width="9.00" height="9.00" fill="#000"/>
<rect x="1290.70" y="2453.70" width="9.00" height="9.00" fill="#000"/>
<rect x="1306.40" y="2453.70" width="9.00" height="9.00" fill="#000"/>
<line x1="1203.50" y1="2288.20" x2="1203.50" y2="2369.89" stroke="#000" stroke-width="2.4" stroke-linecap="butt"/>
<line x1="1189.85" y1="2288.20" x2="1217.15" y2="2288.20" stroke="#000" stroke-width="2.4" stroke-linecap="butt"/>
<line x1="1189.85" y1="2369.89" x2="1217.15" y2="2369.89" stroke="#000" stroke-width="2.4" stroke-linecap="butt"/>
<line x1="1287.30" y1="2380.71" x2="1287.30" y2="2458.20" stroke="#000" stroke-width="2.4" stroke-linecap="butt"/>
<line x1="1273.65" y1="2380.71" x2="1300.95" y2="2380.71" stroke="#000" stroke-width="2.4" stroke-linecap="butt"/>
<line x1="1273.65" y1="2458.20" x2="1300.95" y2="2458.20" stroke="#000" stroke-width="2.4" stroke-linecap="butt"/>
<line x1="1148.30" y1="2166.11" x2="1148.30" y2="2459.70" stroke="#000" stroke-width="3.0" stroke-linecap="butt"/>
<line x1="1136.00" y1="2458.20" x2="1343.10" y2="2458.20" stroke="#000" stroke-width="3.0" stroke-linecap="butt"/>
<line x1="1136.00" y1="2458.20" x2="1148.30" y2="2458.20" stroke="#000" stroke-width="3.0" stroke-linecap="butt"/>
<line x1="1136.00" y1="2361.34" x2="1148.30" y2="2361.34" stroke="#000" stroke-width="3.0" stroke-linecap="butt"/>
<line x1="1136.00" y1="2264.47" x2="1148.30" y2="2264.47" stroke="#000" stroke-width="3.0" stroke-linecap="butt"/>
<line x1="1136.00" y1="2167.61" x2="1148.30" y2="2167.61" stroke="#000" stroke-width="3.0" stroke-linecap="butt"/>
<line x1="1203.50" y1="2458.20" x2="1203.50" y2="2470.00" stroke="#000" stroke-width="3.0" stroke-linecap="butt"/>
<line x1="1287.30" y1="2458.20" x2="1287.30" y2="2470.00" stroke="#000" stroke-width="3.0" stroke-linecap="butt"/>
<text x="1132.80" y="2466.05" font-size="22.8" font-weight="bold" fill="#000" text-anchor="end">0.0</text>
<text x="1132.80" y="2369.18" font-size="22.8" font-weight="bold" fill="#000" text-anchor="end">0.5</text>
<text x="1132.80" y="2272.32" font-size="22.8" font-weight="bold" fill="#000" text-anchor="end">1.0</text>
<text x="1132.80" y="2175.45" font-size="22.8" font-weight="bold" fill="#000" text-anchor="end">1.5</text>
<text x="253.40" y="2493.80" font-size="22.5" font-weight="bold" fill="#000" text-anchor="middle" textLength="38.40" lengthAdjust="spacingAndGlyphs">Ctrl</text>
<text x="336.40" y="2493.80" font-size="22.5" font-weight="bold" fill="#000" text-anchor="middle" textLength="48.40" lengthAdjust="spacingAndGlyphs">NAC</text>
<text x="729.60" y="2493.80" font-size="22.5" font-weight="bold" fill="#000" text-anchor="middle" textLength="38.40" lengthAdjust="spacingAndGlyphs">Ctrl</text>
<text x="812.80" y="2493.80" font-size="22.5" font-weight="bold" fill="#000" text-anchor="middle" textLength="48.40" lengthAdjust="spacingAndGlyphs">NAC</text>
<text x="1203.50" y="2493.80" font-size="22.5" font-weight="bold" fill="#000" text-anchor="middle" textLength="38.40" lengthAdjust="spacingAndGlyphs">Ctrl</text>
<text x="1287.30" y="2493.80" font-size="22.5" font-weight="bold" fill="#000" text-anchor="middle" textLength="48.40" lengthAdjust="spacingAndGlyphs">NAC</text>
<text x="2.10" y="34.90" font-size="44.2" font-weight="bold" fill="#000" text-anchor="start">A</text>
<text x="3.10" y="730.00" font-size="44.2" font-weight="bold" fill="#000" text-anchor="start">B</text>
<text x="3.10" y="1426.30" font-size="44.2" font-weight="bold" fill="#000" text-anchor="start">C</text>
<text x="3.10" y="2082.70" font-size="44.2" font-weight="bold" fill="#000" text-anchor="start">D</text>
<text x="697.20" y="32.20" font-size="41.0" font-weight="bold" fill="#000" text-anchor="middle" textLength="419.00" lengthAdjust="spacingAndGlyphs">IVR during reperfusion</text>
<text x="707.40" y="744.20" font-size="40.0" font-weight="bold" fill="#000" text-anchor="middle" textLength="452.00" lengthAdjust="spacingAndGlyphs">NSVT during reperfusion</text>
<text x="688.50" y="1437.40" font-size="40.0" font-weight="bold" fill="#000" text-anchor="middle" textLength="407.50" lengthAdjust="spacingAndGlyphs">VT during reperfusion</text>
<text x="695.80" y="606.80" font-size="35.6" font-weight="bold" fill="#000" text-anchor="middle" textLength="169.00" lengthAdjust="spacingAndGlyphs">Time (min)</text>
<text x="707.30" y="1308.80" font-size="35.6" font-weight="bold" fill="#000" text-anchor="middle" textLength="166.50" lengthAdjust="spacingAndGlyphs">Time (min)</text>
<text x="687.30" y="2018.40" font-size="35.6" font-weight="bold" fill="#000" text-anchor="middle" textLength="171.50" lengthAdjust="spacingAndGlyphs">Time (min)</text>
<text x="31.00" y="306.90" font-size="35.8" font-weight="bold" fill="#000" text-anchor="middle" textLength="117.00" lengthAdjust="spacingAndGlyphs" transform="rotate(-90 31.00 306.90)">IVR/pig</text>
<text x="54.00" y="1013.30" font-size="35.0" font-weight="bold" fill="#000" text-anchor="middle" textLength="146.50" lengthAdjust="spacingAndGlyphs" transform="rotate(-90 54.00 1013.30)">NSVT/pig</text>
<text x="31.80" y="1715.20" font-size="36.5" font-weight="bold" fill="#000" text-anchor="middle" textLength="105.00" lengthAdjust="spacingAndGlyphs" transform="rotate(-90 31.80 1715.20)">VT/pig</text>
<text x="295.00" y="2129.90" font-size="29.0" font-weight="bold" fill="#000" text-anchor="middle" textLength="379.50" lengthAdjust="spacingAndGlyphs">Total IVR during reperfusion</text>
<text x="771.90" y="2129.90" font-size="29.0" font-weight="bold" fill="#000" text-anchor="middle" textLength="410.00" lengthAdjust="spacingAndGlyphs">Total NSVT during reperfusion</text>
<text x="1244.60" y="2129.80" font-size="29.0" font-weight="bold" fill="#000" text-anchor="middle" textLength="371.50" lengthAdjust="spacingAndGlyphs">Total VT during reperfusion</text>
<text x="139.00" y="2313.00" font-size="24.0" font-weight="bold" fill="#000" text-anchor="middle" textLength="142.50" lengthAdjust="spacingAndGlyphs" transform="rotate(-90 139.00 2313.00)">Total IVR/pig</text>
<text x="604.50" y="2312.60" font-size="24.0" font-weight="bold" fill="#000" text-anchor="middle" textLength="105.50" lengthAdjust="spacingAndGlyphs" transform="rotate(-90 604.50 2312.60)">NSVT/pig</text>
<text x="1085.50" y="2313.50" font-size="24.0" font-weight="bold" fill="#000" text-anchor="middle" textLength="72.50" lengthAdjust="spacingAndGlyphs" transform="rotate(-90 1085.50 2313.50)">VT/pig</text>
<rect x="1116.1" y="6.8" width="150" height="76" fill="none" stroke="#000" stroke-width="4"/>
<circle cx="1137.70" cy="29.80" r="6.30" fill="#000"/>
<rect x="1129.90" y="61.30" width="12.40" height="12.40" fill="#000"/>
<text x="1182.80" y="40.40" font-size="35.0" font-weight="normal" fill="#4D9CF6" text-anchor="start" textLength="52.50" lengthAdjust="spacingAndGlyphs">Ctrl</text>
<text x="1181.50" y="78.10" font-size="35.5" font-weight="normal" fill="#00B400" text-anchor="start" textLength="66.00" lengthAdjust="spacingAndGlyphs">NAC</text>
</svg>
</body></html>
